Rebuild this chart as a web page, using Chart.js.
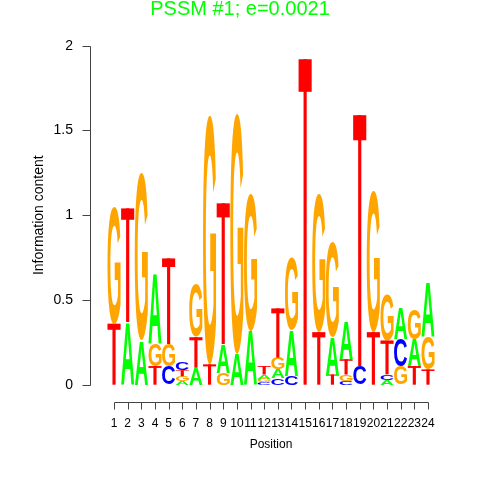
<!DOCTYPE html>
<html>
<head>
<meta charset="utf-8">
<script src="https://cdn.jsdelivr.net/npm/chart.js@4.4.0/dist/chart.umd.min.js"></script>
<style>
    html, body { margin: 0; padding: 0; background: #fff; }
    #wrap { width: 480px; height: 480px; }
</style>
</head>
<body>
<div id="wrap"><canvas id="logo" width="480" height="480"></canvas></div>
<script>
// Wysokości liter (bity) dla każdej pozycji motywu
const positions = ['1', '2', '3', '4', '5', '6', '7', '8', '9', '10', '11', '12',
    '13', '14', '15', '16', '17', '18', '19', '20', '21', '22', '23', '24'];
const bitsA = [0.00, 0.37, 0.26, 0.41, 0.00, 0.020, 0.10, 0.00, 0.17, 0.18, 0.32, 0.025,
    0.05, 0.27, 0.00, 0.00, 0.22, 0.22, 0.00, 0.00, 0.030, 0.18, 0.16, 0.32];
const bitsC = [0.00, 0.00, 0.00, 0.00, 0.11, 0.045, 0.00, 0.00, 0.00, 0.00, 0.00, 0.015,
    0.04, 0.05, 0.00, 0.00, 0.00, 0.02, 0.11, 0.00, 0.031, 0.16, 0.00, 0.00];
const bitsG = [0.69, 0.00, 0.99, 0.13, 0.13, 0.030, 0.31, 1.47, 0.07, 1.42, 0.81, 0.020,
    0.07, 0.43, 0.00, 0.82, 0.56, 0.04, 0.00, 0.83, 0.27, 0.11, 0.18, 0.19];
const bitsT = [0.36, 0.67, 0.00, 0.11, 0.505, 0.035, 0.18, 0.12, 0.83, 0.00, 0.00, 0.050,
    0.29, 0.00, 1.92, 0.31, 0.06, 0.09, 1.48, 0.31, 0.20, 0.00, 0.11, 0.09];
const yTicks = [0, 0.5, 1, 1.5, 2];

const LETTER_COLORS = { A: '#00ff00', C: '#0000ff', G: '#ffa500', T: '#ff0000' };
const FONT = '"Liberation Sans", Arial, Helvetica, sans-serif';

// Kolumny: litery posortowane rosnąco (najmniejsza na dole stosu)
const columns = positions.map((p, i) => {
    const col = [['A', bitsA[i]], ['C', bitsC[i]], ['G', bitsG[i]], ['T', bitsT[i]]];
    return col.sort((a, b) => a[1] - b[1]);
});

const layers = [0, 1, 2, 3].map(k => ({
    label: 'warstwa ' + k,
    data: columns.map(c => c[k][1]),
    letters: columns.map(c => c[k][0]),
    backgroundColor: 'rgba(0,0,0,0)',
    borderWidth: 0,
    barPercentage: 0.96,
    categoryPercentage: 1
}));

// Rozciąga literę tak, by wypełniła prostokąt słupka
function drawLetter(ctx, ch, left, top, w, h) {
    if (h < 0.3) return;
    ctx.save();
    ctx.fillStyle = LETTER_COLORS[ch];
    if (ch === 'T') {
        // T jak w seqLogo: cienka belka i wąska nóżka
        const sw = w * 0.24;
        ctx.fillRect(left, top, w, Math.max(h * 0.1, 0.6));
        ctx.fillRect(left + (w - sw) / 2, top, sw, h);
        ctx.restore();
        return;
    }
    ctx.font = 'bold 100px ' + FONT;
    ctx.textAlign = 'left';
    ctx.textBaseline = 'alphabetic';
    const m = ctx.measureText(ch);
    const gw = m.actualBoundingBoxLeft + m.actualBoundingBoxRight;
    const gh = m.actualBoundingBoxAscent + m.actualBoundingBoxDescent;
    ctx.translate(left, top);
    ctx.scale(w / gw, h / gh);
    ctx.fillText(ch, m.actualBoundingBoxLeft, m.actualBoundingBoxAscent);
    ctx.restore();
}

const letterPlugin = {
    id: 'letters',
    afterDatasetsDraw(chart) {
        const ctx = chart.ctx;
        chart.data.datasets.forEach((ds, di) => {
            const meta = chart.getDatasetMeta(di);
            meta.data.forEach((bar, i) => {
                if (!ds.data[i]) return;
                const { x, y, base, width } = bar.getProps(['x', 'y', 'base', 'width'], true);
                drawLetter(ctx, ds.letters[i], x - width / 2, Math.min(y, base), width, Math.abs(base - y));
            });
        });
    }
};

// Osie w stylu R: odsunięte od obszaru wykresu
const rAxesPlugin = {
    id: 'rAxes',
    afterDraw(chart) {
        const { ctx, scales: { x, y } } = chart;
        const y0 = y.getPixelForValue(0);
        const ax = 90.5;
        const ay = Math.round(y0 + 17) + 0.5;
        ctx.save();
        ctx.strokeStyle = '#444';
        ctx.lineWidth = 1;
        ctx.beginPath();
        ctx.moveTo(ax, Math.round(y0) + 0.5);
        ctx.lineTo(ax, Math.round(y.getPixelForValue(2)) + 0.5);
        yTicks.forEach(t => {
            const py = Math.round(y.getPixelForValue(t)) + 0.5;
            ctx.moveTo(ax - 8, py);
            ctx.lineTo(ax, py);
        });
        ctx.moveTo(Math.round(x.getPixelForValue(0)) + 0.5, ay);
        ctx.lineTo(Math.round(x.getPixelForValue(positions.length - 1)) + 0.5, ay);
        positions.forEach((p, i) => {
            const px = Math.round(x.getPixelForValue(i)) + 0.5;
            ctx.moveTo(px, ay);
            ctx.lineTo(px, ay + 7);
        });
        ctx.stroke();
        ctx.restore();
    }
};

new Chart(document.getElementById('logo'), {
    type: 'bar',
    data: { labels: positions, datasets: layers },
    plugins: [letterPlugin, rAxesPlugin],
    options: {
        responsive: false,
        animation: false,
        devicePixelRatio: 1,
        layout: { padding: 0 },
        plugins: {
            legend: { display: false },
            tooltip: { enabled: false },
            title: {
                display: true,
                text: 'PSSM #1; e=0.0021',
                color: '#00ff00',
                font: { family: FONT, size: 20, weight: 'normal', lineHeight: 0.9 },
                padding: { top: 0, bottom: 27.7 }
            }
        },
        scales: {
            x: {
                stacked: true,
                offset: true,
                grid: { display: false, drawTicks: false },
                border: { display: false },
                ticks: { color: '#000', font: { family: FONT, size: 12 }, padding: 32, autoSkip: false, maxRotation: 0 },
                title: { display: true, text: 'Position', color: '#000', font: { family: FONT, size: 12 }, padding: { top: 0, bottom: 28 } },
                afterFit: s => { s.height = 95.3; }
            },
            y: {
                stacked: true,
                min: 0,
                max: 2,
                afterBuildTicks: s => { s.ticks = yTicks.map(v => ({ value: v })); },
                grid: { display: false, drawTicks: false },
                border: { display: false },
                ticks: { color: '#000', font: { family: FONT, size: 14 }, padding: 34.2, callback: v => String(v) },
                title: { display: true, text: 'Information content', color: '#000', font: { family: FONT, size: 14 }, padding: { top: 30.6, bottom: 0 } },
                afterFit: s => { s.width = 107.2; }
            },
            // pusty margines po prawej, żeby tytuł był na środku płótna
            margin: {
                type: 'linear',
                position: 'right',
                grid: { display: false },
                border: { display: false },
                ticks: { display: false },
                afterFit: s => { s.width = 45.2; }
            }
        }
    }
});
</script>
</body>
</html>
